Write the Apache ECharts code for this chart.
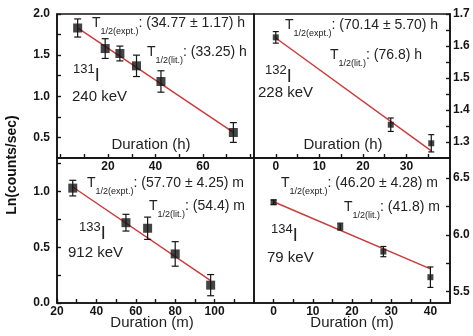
<!DOCTYPE html>
<html><head><meta charset="utf-8">
<script src="https://cdn.jsdelivr.net/npm/echarts@6/dist/echarts.min.js"></script>
<style>html,body{margin:0;padding:0;background:#fff}#c{width:473px;height:336px}</style>
</head><body><div id="c"></div>
<script>
// ---- 131I, 240 keV (hours)
const i131Time = [7.2, 18.8, 25, 32, 42.3, 72.8];
const i131Ln = [1.83, 1.58, 1.52, 1.37, 1.18, 0.56];
const i131Err = [0.11, 0.12, 0.09, 0.13, 0.13, 0.12];
const i131FitX = [7.2, 72.8];
const i131FitY = [1.83, 0.56];
// ---- 132I, 228 keV (hours)
const i132Time = [0, 26.4, 35.7];
const i132Ln = [1.627, 1.354, 1.296];
const i132Err = [0.018, 0.021, 0.027];
const i132FitX = [0, 35.7];
const i132FitY = [1.625, 1.272];
// ---- 133I, 912 keV (minutes)
const i133Time = [28, 55, 66, 80, 98];
const i133Ln = [1.03, 0.72, 0.67, 0.44, 0.16];
const i133Err = [0.07, 0.075, 0.1, 0.11, 0.095];
const i133FitX = [28, 98];
const i133FitY = [1.04, 0.20];
// ---- 134I, 79 keV (minutes)
const i134Time = [0, 17, 28, 40];
const i134Ln = [6.286, 6.072, 5.852, 5.627];
const i134Err = [0.02, 0.03, 0.045, 0.09];
const i134FitX = [0, 40];
const i134FitY = [6.29, 5.70];

// ---- ticks / labels
const tlXTicks = [0, 10, 20, 30, 40, 50, 60, 70, 80];
const tlXLabels = [20, 40, 60];
const tlYTicks = [0.5, 0.75, 1.0, 1.25, 1.5, 1.75, 2.0];
const tlYLabels = [0.5, 1.0, 1.5, 2.0];
const trXTicks = [0, 5, 10, 15, 20, 25, 30, 35];
const trXLabels = [0, 10, 20, 30];
const trYTicks = [1.3, 1.35, 1.4, 1.45, 1.5, 1.55, 1.6, 1.65, 1.7];
const trYLabels = [1.3, 1.4, 1.5, 1.6, 1.7];
const blXTicks = [20, 30, 40, 50, 60, 70, 80, 90, 100, 110];
const blXLabels = [20, 40, 60, 80, 100];
const blYTicks = [0, 0.25, 0.5, 0.75, 1.0, 1.25];
const blYLabels = [0.0, 0.5, 1.0];
const brXTicks = [0, 5, 10, 15, 20, 25, 30, 35, 40];
const brXLabels = [0, 10, 20, 30, 40];
const brYTicks = [5.5, 5.75, 6.0, 6.25, 6.5];
const brYLabels = [5.5, 6.0, 6.5];

const FONT = "'Liberation Sans', Arial, sans-serif";
const INK = '#151515';
const RED = '#cc3b3b';

function xAx(gi, min, max, ticks, labels) {
  return {type:'value', gridIndex:gi, min, max, position:'bottom',
    axisLine:{show:true, onZero:false, lineStyle:{color:INK, width:1.6}},
    axisTick:{show:true, inside:true, length:4, customValues:ticks, lineStyle:{color:INK, width:1.4}},
    axisLabel:{show:true, customValues:labels, margin:3, fontSize:12, fontWeight:'bold', fontFamily:FONT, color:INK,
      formatter:v=>String(Math.round(v))},
    splitLine:{show:false}};
}
function yAx(gi, min, max, ticks, labels, pos) {
  return {type:'value', gridIndex:gi, min, max, position:pos,
    axisLine:{show:true, onZero:false, lineStyle:{color:INK, width:1.6}},
    axisTick:{show:true, inside:true, length:4, customValues:ticks, lineStyle:{color:INK, width:1.4}},
    axisLabel:{show:true, customValues:labels, margin:pos==='left'?7:3, fontSize:12, fontWeight:'bold', fontFamily:FONT, color:INK,
      formatter:v=>v.toFixed(1)},
    splitLine:{show:false}};
}
function errSeries(gi, xs, ys, es, cap) {
  return {type:'custom', xAxisIndex:gi, yAxisIndex:gi, z:3, silent:true,
    data: xs.map((v,i)=>[v, ys[i]-es[i], ys[i]+es[i]]),
    encode:{x:0, y:[1,2]},
    renderItem(params, api) {
      const lo = api.coord([api.value(0), api.value(1)]);
      const hi = api.coord([api.value(0), api.value(2)]);
      const st = {stroke:INK, lineWidth:1.2};
      return {type:'group', children:[
        {type:'line', shape:{x1:lo[0], y1:lo[1], x2:hi[0], y2:hi[1]}, style:st},
        {type:'line', shape:{x1:lo[0]-cap, y1:lo[1], x2:lo[0]+cap, y2:lo[1]}, style:st},
        {type:'line', shape:{x1:hi[0]-cap, y1:hi[1], x2:hi[0]+cap, y2:hi[1]}, style:st}
      ]};
    }};
}
function ptSeries(gi, xs, ys, size) {
  return {type:'scatter', xAxisIndex:gi, yAxisIndex:gi, z:4, silent:true, symbol:'rect', symbolSize:size,
    itemStyle:{color:INK}, data: xs.map((v,i)=>[v, ys[i]])};
}
function fitSeries(gi, xs, ys) {
  return {type:'line', xAxisIndex:gi, yAxisIndex:gi, z:2, silent:true, symbol:'none',
    lineStyle:{color:RED, width:1.5}, data: xs.map((v,i)=>[v, ys[i]])};
}

const richT = {
  t:{fontSize:14, lineHeight:26, fontFamily:FONT, fill:'#222'},
  s:{fontSize:9, lineHeight:12, verticalAlign:'bottom', fontFamily:FONT, fill:'#222'},
  n:{fontSize:14, lineHeight:26, fontFamily:FONT, fill:'#222'}
};
function tText(x, y, sub, rest) {
  return {type:'text', x, y, z:10, style:{text:'{t|T}{s|' + sub + '}{n|' + rest + '}', rich:richT,
    align:'left', verticalAlign:'middle', fill:'#222', font:'14px ' + FONT}};
}
function isoText(x, y, mass) {
  return {type:'text', x, y, z:10, style:{text:'{a|' + mass + '}{b|I}', rich:{
      a:{fontSize:13, lineHeight:14, verticalAlign:'top', fontFamily:FONT, fill:'#222'},
      b:{fontSize:18, lineHeight:26, fontFamily:FONT, fill:'#222'}},
    align:'left', verticalAlign:'middle', fill:'#222', font:'14px ' + FONT}};
}
function plain(x, y, txt, size, align, extra) {
  return Object.assign({type:'text', x, y, z:10, style:{text:txt, font:(size||14) + 'px ' + FONT, fill:'#222',
    align:align||'left', verticalAlign:'middle'}}, extra||{});
}

const grids = [
  {left:57, top:14, width:197, height:144},
  {left:254, top:14, width:196, height:144},
  {left:57, top:158, width:197, height:145},
  {left:254, top:158, width:196, height:145}
].map(g => Object.assign(g, {show:true, borderColor:INK, borderWidth:1.6, backgroundColor:'transparent', containLabel:false}));

const option = {
  animation:false,
  backgroundColor:'#fff',
  grid: grids,
  xAxis: [
    xAx(0, -1.5, 81.5, tlXTicks, tlXLabels),
    xAx(1, -5, 40, trXTicks, trXLabels),
    xAx(2, 20, 120, blXTicks, blXLabels),
    xAx(3, -5, 45, brXTicks, brXLabels)
  ],
  yAxis: [
    yAx(0, 0.25, 2.0, tlYTicks, tlYLabels, 'left'),
    yAx(1, 1.25, 1.7, trYTicks, trYLabels, 'right'),
    yAx(2, 0, 1.3, blYTicks, blYLabels, 'left'),
    yAx(3, 5.4, 6.675, brYTicks, brYLabels, 'right')
  ],
  series: [
    fitSeries(0, i131FitX, i131FitY), errSeries(0, i131Time, i131Ln, i131Err, 3.5), ptSeries(0, i131Time, i131Ln, 9),
    fitSeries(1, i132FitX, i132FitY), errSeries(1, i132Time, i132Ln, i132Err, 3), ptSeries(1, i132Time, i132Ln, 6),
    fitSeries(2, i133FitX, i133FitY), errSeries(2, i133Time, i133Ln, i133Err, 3.5), ptSeries(2, i133Time, i133Ln, 9),
    fitSeries(3, i134FitX, i134FitY), errSeries(3, i134Time, i134Ln, i134Err, 3), ptSeries(3, i134Time, i134Ln, 6)
  ],
  graphic: [
    plain(12, 165, 'Ln(counts/sec)', 14, 'center', {rotation:Math.PI/2, style:{text:'Ln(counts/sec)', font:'bold 14px ' + FONT, fill:'#111', align:'center', verticalAlign:'middle'}}),
    tText(92, 23, '1/2(expt.)', ': (34.77 \u00b1 1.17) h'),
    tText(147, 52, '1/2(lit.)', ': (33.25) h'),
    isoText(73, 76, '131'),
    plain(72, 97, '240 keV', 15),
    plain(151, 145, 'Duration (h)', 15, 'center'),
    tText(285, 25, '1/2(expt.)', ': (70.14 \u00b1 5.70) h'),
    tText(330, 55, '1/2(lit.)', ': (76.8) h'),
    isoText(265, 77, '132'),
    plain(258, 93, '228 keV', 15),
    plain(343, 145, 'Duration (h)', 15, 'center'),
    tText(87, 183, '1/2(expt.)', ': (57.70 \u00b1 4.25) m'),
    tText(149, 206, '1/2(lit.)', ': (54.4) m'),
    isoText(79, 234, '133'),
    plain(68, 253, '912 keV', 15),
    plain(152, 323, 'Duration (m)', 15, 'center'),
    tText(281, 183, '1/2(expt.)', ': (46.20 \u00b1 4.28) m'),
    tText(344, 207, '1/2(lit.)', ': (41.8) m'),
    isoText(271, 236, '134'),
    plain(267, 258, '79 keV', 15),
    plain(352, 323, 'Duration (m)', 15, 'center')
  ]
};
const chart = echarts.init(document.getElementById('c'), null, {renderer:'canvas'});
chart.setOption(option);
</script>
</body></html>
